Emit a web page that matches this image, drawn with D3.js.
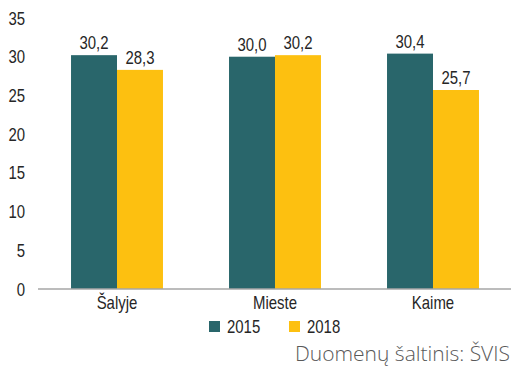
<!DOCTYPE html>
<html>
<head>
<meta charset="utf-8">
<script src="https://cdn.jsdelivr.net/npm/d3@7"></script>
<style>
  html, body { margin: 0; padding: 0; background: #fff; }
  svg { display: block; }
  .lbl { font-family: "Liberation Sans", Arial, sans-serif; font-size: 18px; fill: #262626; }
</style>
</head>
<body>
<svg id="chart" width="511" height="367"></svg>
<script>
const categories = ["Šalyje", "Mieste", "Kaime"];
const seriesNames = ["2015", "2018"];
const values2015 = [30.2, 30.0, 30.4];
const values2018 = [28.3, 30.2, 25.7];
const yTicks = [0, 5, 10, 15, 20, 25, 30, 35];
const colors = ["#29666B", "#FDC010"];
const sourceText = "Duomenų šaltinis: ŠVIS";

const series = [values2015, values2018];
const svg = d3.select("#chart");
const W = 511, H = 367;
const m = { left: 38, right: -1, top: 18, bottom: 78 };
const NARROW = 0.83;

// condensed label: regular sans squeezed horizontally
function label(parent, x, y, text, anchor) {
  return parent.append("text").attr("class", "lbl")
    .attr("transform", `translate(${x},${y}) scale(${NARROW},1)`)
    .attr("text-anchor", anchor || "start")
    .text(text);
}

const x = d3.scaleBand().domain(categories).range([m.left, W - m.right]).paddingInner(0.418).paddingOuter(0.209);
const xs = d3.scaleBand().domain(seriesNames).range([0, x.bandwidth()]);
const y = d3.scaleLinear().domain([0, 35]).range([H - m.bottom, m.top]);

// y tick labels
yTicks.forEach(t => label(svg, 25, y(t) + 6.5, t, "end"));

// bars with value labels
categories.forEach((c, i) => {
  series.forEach((vals, s) => {
    const v = vals[i];
    const bx = x(c) + xs(seriesNames[s]);
    svg.append("rect")
      .attr("x", bx)
      .attr("y", y(v))
      .attr("width", xs.bandwidth())
      .attr("height", y(0) - y(v))
      .attr("fill", colors[s]);
    label(svg, bx + xs.bandwidth() / 2, y(v) - 6, d3.format(".1f")(v).replace(".", ","), "middle");
  });
});

// x axis line and category labels
svg.append("line")
  .attr("x1", m.left).attr("x2", W)
  .attr("y1", y(0)).attr("y2", y(0))
  .attr("stroke", "#a6a6a6").attr("stroke-width", 1.5);
categories.forEach(c => label(svg, x(c) + x.bandwidth() / 2, y(0) + 20, c, "middle"));

// legend
seriesNames.forEach((n, i) => {
  const lx = 209 + i * 80;
  svg.append("rect").attr("x", lx).attr("y", 321).attr("width", 11).attr("height", 11).attr("fill", colors[i]);
  label(svg, lx + 18, 333, n, "start");
});

// source note
svg.append("text")
  .attr("x", 510).attr("y", 361)
  .attr("text-anchor", "end")
  .style("font-family", "'Open Sans', sans-serif")
  .style("font-weight", 300)
  .style("font-size", "21px")
  .attr("fill", "#595959")
  .text(sourceText);
</script>
</body>
</html>
